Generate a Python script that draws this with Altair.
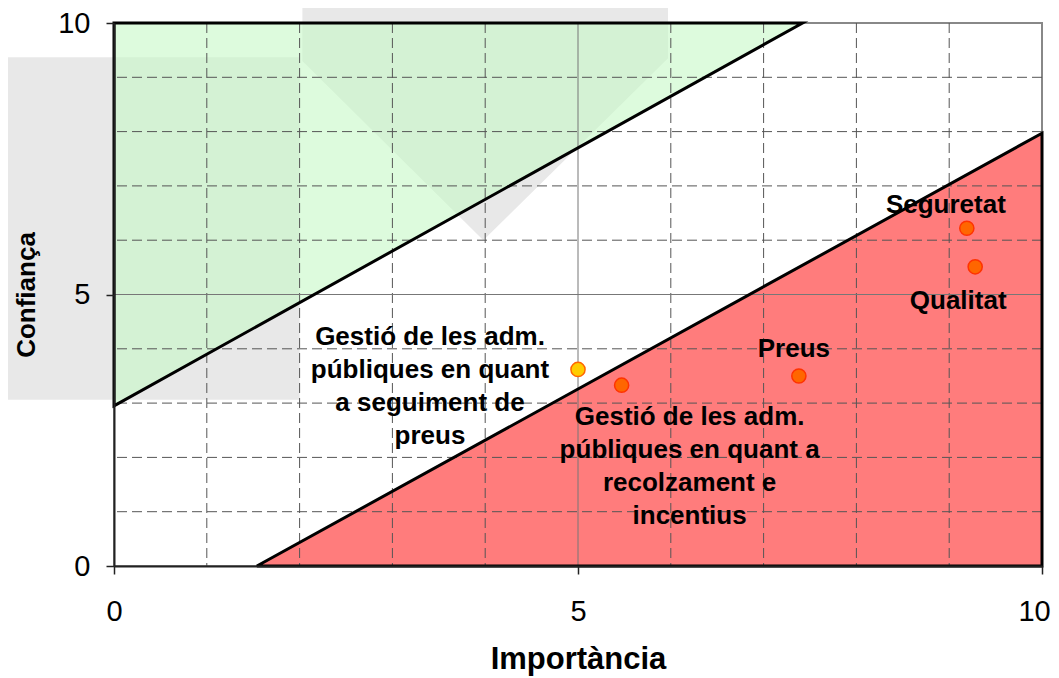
import altair as alt
import pandas as pd

# ---- data ----
labels = [
    "Seguretat",
    "Qualitat",
    "Preus",
    "Gestió de les adm.\npúbliques en quant a\nrecolzament e\nincentius",
    "Gestió de les adm.\npúbliques en quant\na seguiment de\npreus",
]
importancia = [9.19, 9.28, 7.38, 5.47, 5.00]
confianca = [6.22, 5.51, 3.50, 3.33, 3.62]
kind = ["alt", "alt", "alt", "alt", "mig"]

# green zone (upper-left triangle)
green_x = [0.0, 7.42]
green_low = [2.95, 10.0]
green_high = [10.0, 10.0]

# red zone (lower-right triangle)
red_x = [1.54, 10.0]
red_low = [0.0, 0.0]
red_high = [0.0, 7.97]

# grey background decorations
grey_rect_x = [-1.23]
grey_rect_x2 = [2.0]
grey_rect_y = [3.06]
grey_rect_y2 = [9.37]
arrow_x = [2.03, 3.98, 5.97]
arrow_low = [9.3, 6.0, 9.35]
arrow_high = [10.45, 10.45, 10.45]

grid_minor = [1, 2, 3, 4, 6, 7, 8, 9]
grid_major = [5]
tick_values = [0, 5, 10]

FONT = "Liberation Sans"
XS = alt.Scale(domain=[0, 10], nice=False, zero=False)
YS = alt.Scale(domain=[0, 10], nice=False, zero=False)


def X(field, **kw):
    return alt.X(field, type="quantitative", scale=XS, **kw)


def Y(field, **kw):
    return alt.Y(field, type="quantitative", scale=YS, **kw)


pts = pd.DataFrame({"label": labels, "x": importancia, "y": confianca, "kind": kind})
green = pd.DataFrame({"x": green_x, "lo": green_low, "hi": green_high})
red = pd.DataFrame({"x": red_x, "lo": red_low, "hi": red_high})
grect = pd.DataFrame({"x": grey_rect_x, "x2": grey_rect_x2, "y": grey_rect_y, "y2": grey_rect_y2})
arrow = pd.DataFrame({"x": arrow_x, "lo": arrow_low, "hi": arrow_high})
gminor = pd.DataFrame({"v": grid_minor})
gmajor = pd.DataFrame({"v": grid_major})

# axes carrier (invisible points) - first layer so its axis definition wins
axis_layer = alt.Chart(pts).mark_point(opacity=0).encode(
    x=alt.X(
        "x:Q",
        scale=XS,
        axis=alt.Axis(
            values=tick_values, format="d", grid=False, labelFontSize=29, labelFont=FONT, labelColor="black",
            tickSize=8, tickColor="#222222", tickWidth=1.5, domainColor="#222222", domainWidth=2,
            labelPadding=23, labelFlush=False, labelOverlap=False,
            labelOffset={"condition": {"test": "datum.value == 10", "value": -8}, "value": 0},
            title="Importància", titleFontSize=31, titleFont=FONT, titleFontWeight="bold",
            titleColor="black", titleBaseline="alphabetic", titleY=102, zindex=1,
        ),
    ),
    y=alt.Y(
        "y:Q",
        scale=YS,
        axis=alt.Axis(
            values=tick_values, format="d", grid=False, labelFontSize=29, labelFont=FONT, labelColor="black",
            tickSize=8, tickColor="#222222", tickWidth=1.5, domainColor="#222222", domainWidth=2,
            labelPadding=16, labelFlush=False, labelOverlap=False,
            title="Confiança", titleFontSize=26, titleFont=FONT, titleFontWeight="bold",
            titleColor="black", titleBaseline="alphabetic", titleX=-80, zindex=1,
        ),
    ),
)

grey_rect_layer = alt.Chart(grect).mark_rect(color="#e8e8e8", clip=False).encode(
    x=X("x"), x2="x2", y=Y("y"), y2="y2"
)
arrow_layer = alt.Chart(arrow).mark_area(color="#e8e8e8", clip=False).encode(
    x=X("x"), y=Y("lo"), y2="hi"
)
green_fill = alt.Chart(green).mark_area(color="#c6f8c6", opacity=0.6, clip=False).encode(
    x=X("x"), y=Y("lo"), y2="hi"
)
red_fill = alt.Chart(red).mark_area(color="#ff7c7c", opacity=1, clip=False).encode(
    x=X("x"), y=Y("lo"), y2="hi"
)

vminor = alt.Chart(gminor).mark_rule(color="#555555", strokeWidth=1, strokeDash=[10, 5]).encode(x=X("v"))
hminor = alt.Chart(gminor).mark_rule(color="#555555", strokeWidth=1, strokeDash=[10, 5]).encode(y=Y("v"))
vmajor = alt.Chart(gmajor).mark_rule(color="#777777", strokeWidth=1).encode(x=X("v"))
hmajor = alt.Chart(gmajor).mark_rule(color="#777777", strokeWidth=1).encode(y=Y("v"))

green_line = alt.Chart(green).mark_area(fillOpacity=0, stroke="black", strokeWidth=3, clip=False).encode(
    x=X("x"), y=Y("lo"), y2="hi"
)
red_line = alt.Chart(red).mark_area(fillOpacity=0, stroke="black", strokeWidth=3, clip=False).encode(
    x=X("x"), y=Y("lo"), y2="hi"
)

points = alt.Chart(pts).mark_point(filled=True, size=200, strokeWidth=1.5, opacity=1).encode(
    x=X("x"),
    y=Y("y"),
    fill=alt.Fill("kind:N", scale=alt.Scale(domain=["alt", "mig"], range=["#ff6600", "#ffcc00"]), legend=None),
    stroke=alt.Stroke("kind:N", scale=alt.Scale(domain=["alt", "mig"], range=["#ff3300", "#ff6600"]), legend=None),
)

offsets = {
    labels[0]: (-21, -23),
    labels[1]: (-17, 34),
    labels[2]: (-5, -27),
    labels[3]: (68, 32),
    labels[4]: (-148, -32),
}
text_layers = []
for lab, (dx, dy) in offsets.items():
    text_layers.append(
        alt.Chart(pts)
        .transform_filter(alt.datum.label == lab)
        .mark_text(
            font=FONT, fontSize=26, fontWeight="bold", color="black", align="center",
            baseline="middle", lineBreak="\n", lineHeight=33, dx=dx, dy=dy,
        )
        .encode(x=X("x"), y=Y("y"), text="label:N")
    )

chart = (
    alt.layer(
        axis_layer, grey_rect_layer, arrow_layer, green_fill, red_fill,
        vminor, hminor, vmajor, hmajor,
        green_line, red_line, points, *text_layers,
    )
    .properties(
        width=928, height=543,
        autosize=alt.AutoSizeParams(type="none"),
        padding={"left": 106, "top": 15, "right": 9, "bottom": 112},
    )
    .configure_view(stroke="#888888", strokeWidth=2)
)

chart.save("out.html", embed_options={"renderer": "svg", "actions": False})
